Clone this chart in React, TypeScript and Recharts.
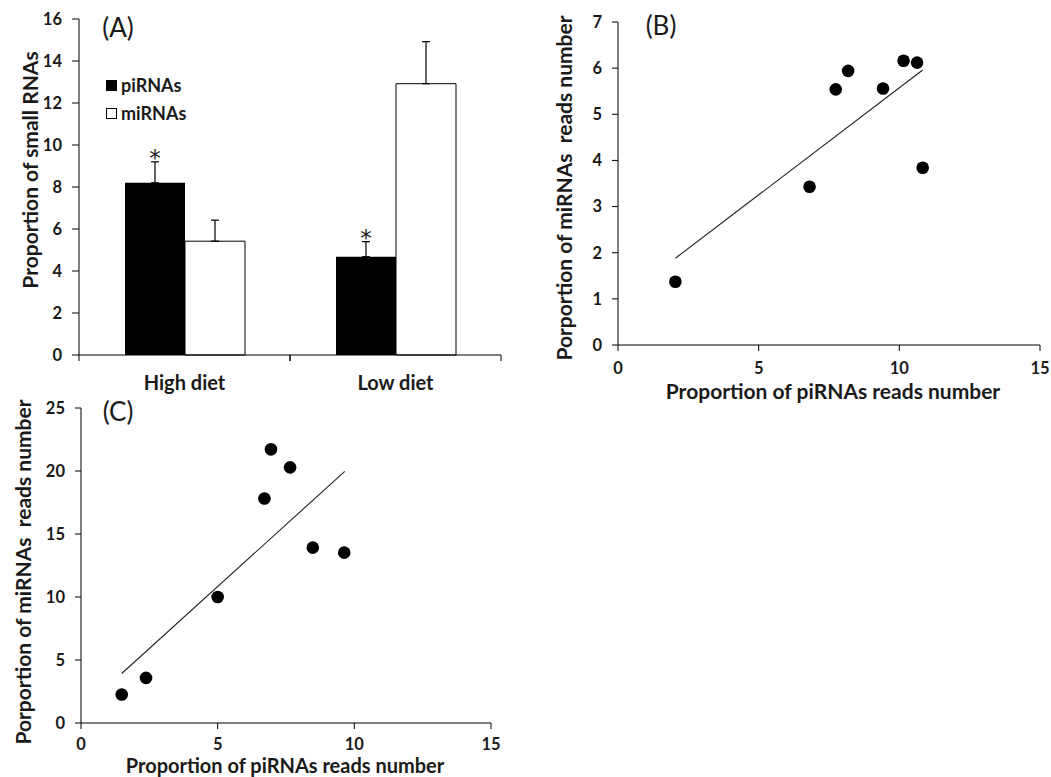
import {
  Bar,
  BarChart,
  ErrorBar,
  LabelList,
  Legend,
  Scatter,
  ScatterChart,
  XAxis,
  YAxis,
} from "recharts";

// (A) proportion of small RNAs per diet
const dietGroups = ["High diet", "Low diet"];
const piRNAs = [8.2, 4.68];
const piRNAsErr = [1.0, 0.72];
const miRNAs = [5.42, 12.92];
const miRNAsErr = [1.0, 2.0];
const proportionTicks = [0, 2, 4, 6, 8, 10, 12, 14, 16];
const legendOrder = ["piRNAs", "miRNAs"];

// (B) piRNA vs miRNA reads
const bPiRNA = [2.04, 6.81, 7.74, 8.18, 9.42, 10.15, 10.63, 10.83];
const bMiRNA = [1.37, 3.43, 5.54, 5.94, 5.56, 6.16, 6.12, 3.84];
const bTrendX = [2.04, 10.83];
const bTrendY = [1.88, 5.96];
const bYTicks = [0, 1, 2, 3, 4, 5, 6, 7];

// (C) piRNA vs miRNA reads
const cPiRNA = [1.49, 2.38, 5.0, 6.71, 6.95, 7.65, 8.48, 9.63];
const cMiRNA = [2.26, 3.58, 10.0, 17.82, 21.72, 20.29, 13.92, 13.52];
const cTrendX = [1.49, 9.65];
const cTrendY = [3.93, 19.97];
const cYTicks = [0, 5, 10, 15, 20, 25];

const readsTicks = [0, 5, 10, 15];

const FONT = "Lato, 'Open Sans', sans-serif";
const INK = "#1a1a1a";
const tickStyle = { fill: INK, fontSize: 16.5, fontWeight: 700, fontFamily: FONT };

const barData = dietGroups.map((group, i) => ({
  group,
  pi: piRNAs[i],
  piErr: [0, piRNAsErr[i]],
  mi: miRNAs[i],
  miErr: [0, miRNAsErr[i]],
}));

function DietTick(props: any) {
  const { x, y, payload } = props;
  const half = payload?.offset ?? 105;
  return (
    <g>
      <line x1={x - half} x2={x - half} y1={y} y2={y + 6} stroke="#000" />
      <line x1={x + half} x2={x + half} y1={y} y2={y + 6} stroke="#000" />
      <text
        x={x}
        y={y + 35}
        textAnchor="middle"
        fill={INK}
        fontSize={20}
        fontWeight={700}
        fontFamily={FONT}
      >
        {payload.value}
      </text>
    </g>
  );
}

function Star(props: any) {
  const { x, y, width, height, index } = props;
  const perUnit = height / piRNAs[index];
  const top = y - piRNAsErr[index] * perUnit;
  return (
    <text x={x + width / 2} y={top + 4} textAnchor="middle" fontSize={23} fill={INK} fontFamily="'DejaVu Sans', sans-serif">
      *
    </text>
  );
}

function BarLegend(props: any) {
  const payload = [...(props.payload || [])].sort(
    (a: any, b: any) => legendOrder.indexOf(a.value) - legendOrder.indexOf(b.value)
  );
  return (
    <div style={{ fontFamily: FONT, fontWeight: 700, fontSize: 18, color: INK }}>
      {payload.map((entry: any) => (
        <div key={entry.value} style={{ display: "flex", alignItems: "center", height: 28 }}>
          <span
            style={{
              display: "inline-block",
              width: 9,
              height: 9,
              background: entry.color,
              border: "1px solid #000",
              marginRight: 4,
            }}
          />
          {entry.value}
        </div>
      ))}
    </div>
  );
}

function Title(props: { text: string; x: number; y: number; rotate?: boolean; size?: number; bold?: boolean }) {
  const { text, x, y, rotate, size = 21, bold = true } = props;
  return (
    <div
      style={{
        position: "absolute",
        left: x,
        top: y,
        transform: `translate(-50%, -50%)${rotate ? " rotate(-90deg)" : ""}`,
        whiteSpace: "pre",
        fontFamily: FONT,
        fontSize: size,
        fontWeight: bold ? 700 : 400,
        color: INK,
        lineHeight: 1,
      }}
    >
      {text}
    </div>
  );
}

function Dot(props: any) {
  const { cx, cy } = props;
  return <circle cx={cx} cy={cy} r={6.3} fill="#000" />;
}

const NoShape = () => <g />;

type PanelProps = {
  xs: number[];
  ys: number[];
  trendX: number[];
  trendY: number[];
  yMax: number;
  yTicks: number[];
  width: number;
  height: number;
  margin: { top: number; right: number; bottom: number; left: number };
  xTickMargin: number;
};

function ReadsScatter({ xs, ys, trendX, trendY, yMax, yTicks, width, height, margin, xTickMargin }: PanelProps) {
  const points = xs.map((x, i) => ({ x, y: ys[i] }));
  const trend = trendX.map((x, i) => ({ x, y: trendY[i] }));
  return (
    <ScatterChart width={width} height={height} margin={margin}>
      <XAxis
        type="number"
        dataKey="x"
        domain={[0, 15]}
        ticks={readsTicks}
        interval={0}
        height={30}
        axisLine={{ stroke: "#000" }}
        tickLine={{ stroke: "#000" }}
        tickSize={6}
        tickMargin={xTickMargin}
        tick={tickStyle}
      />
      <YAxis
        type="number"
        dataKey="y"
        domain={[0, yMax]}
        ticks={yTicks}
        interval={0}
        width={30}
        axisLine={{ stroke: "#000" }}
        tickLine={{ stroke: "#000" }}
        tickSize={6}
        tickMargin={10}
        tick={tickStyle}
      />
      <Scatter data={trend} line={{ stroke: "#222", strokeWidth: 1.1 }} shape={NoShape} isAnimationActive={false} />
      <Scatter data={points} fill="#000" shape={Dot} isAnimationActive={false} />
    </ScatterChart>
  );
}

export default function App() {
  return (
    <div
      style={{
        position: "absolute",
        left: 0,
        top: 0,
        width: 1051,
        height: 777,
        background: "#fff",
        overflow: "hidden",
      }}
    >
      <div style={{ position: "absolute", left: 0, top: 0 }}>
        <BarChart
          width={520}
          height={400}
          data={barData}
          margin={{ top: 19, right: 19, bottom: 15, left: 39 }}
          barGap={0}
          barSize={60}
        >
          <XAxis
            dataKey="group"
            interval={0}
            height={30}
            axisLine={{ stroke: "#000" }}
            tickLine={false}
            tickSize={0}
            tickMargin={0}
            tick={<DietTick />}
          />
          <YAxis
            domain={[0, 16]}
            ticks={proportionTicks}
            interval={0}
            width={40}
            axisLine={{ stroke: "#000" }}
            tickLine={{ stroke: "#000" }}
            tickSize={7}
            tickMargin={10}
            tick={tickStyle}
          />
          <Legend
            layout="vertical"
            align="center"
            verticalAlign="middle"
            content={<BarLegend />}
            wrapperStyle={{ position: "absolute", left: 106, top: 71, width: "auto" }}
          />
          <Bar dataKey="pi" name="piRNAs" fill="#000" isAnimationActive={false}>
            <ErrorBar dataKey="piErr" width={4} stroke="#000" strokeWidth={1.2} />
            <LabelList dataKey="pi" content={<Star />} />
          </Bar>
          <Bar dataKey="mi" name="miRNAs" fill="#fff" stroke="#000" strokeWidth={1} isAnimationActive={false}>
            <ErrorBar dataKey="miErr" width={4} stroke="#000" strokeWidth={1.2} />
          </Bar>
        </BarChart>
      </div>

      <div style={{ position: "absolute", left: 540, top: 0 }}>
        <ReadsScatter
          xs={bPiRNA}
          ys={bMiRNA}
          trendX={bTrendX}
          trendY={bTrendY}
          yMax={7}
          yTicks={bYTicks}
          width={511}
          height={400}
          margin={{ top: 22, right: 11, bottom: 25, left: 48 }}
          xTickMargin={11}
        />
      </div>

      <div style={{ position: "absolute", left: 0, top: 380 }}>
        <ReadsScatter
          xs={cPiRNA}
          ys={cMiRNA}
          trendX={cTrendX}
          trendY={cTrendY}
          yMax={25}
          yTicks={cYTicks}
          width={510}
          height={397}
          margin={{ top: 28, right: 19, bottom: 24, left: 51 }}
          xTickMargin={9}
        />
      </div>

      <Title text="(A)" x={118} y={27} size={26} bold={false} />
      <Title text="(B)" x={661} y={25} size={26} bold={false} />
      <Title text="(C)" x={118} y={411} size={26} bold={false} />

      <Title text="Proportion of small RNAs" x={29} y={170} rotate />
      <Title text="Porportion of miRNAs  reads number" x={563} y={188} rotate />
      <Title text="Proportion of piRNAs reads number" x={833} y={390} />
      <Title text="Porportion of miRNAs  reads number" x={22} y={572} rotate />
      <Title text="Proportion of piRNAs reads number" x={285} y={764.5} size={20} />
    </div>
  );
}
